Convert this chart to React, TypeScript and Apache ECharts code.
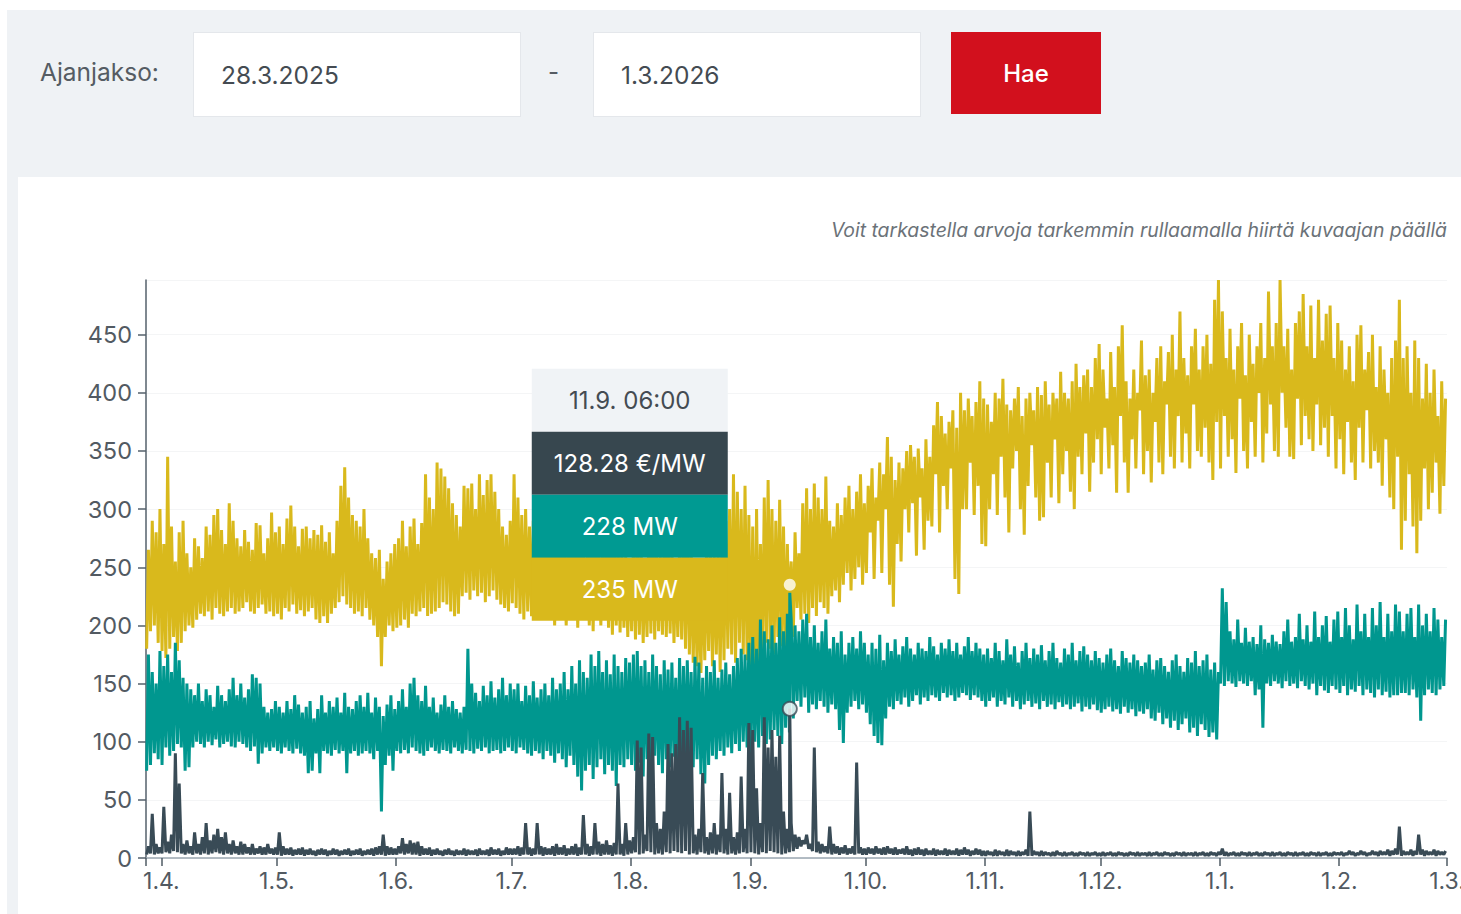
import React, { useEffect, useRef } from "react";
import * as echarts from "echarts";

// ---- data (daily low / high readings, one sub-array per month chunk) ----
const chunkStarts: [number, number, number][] = [
  [2025, 2, 28], [2025, 3, 1], [2025, 4, 1], [2025, 5, 1], [2025, 6, 1], [2025, 7, 1],
  [2025, 8, 1], [2025, 9, 1], [2025, 10, 1], [2025, 11, 1], [2026, 0, 1], [2026, 1, 1],
];

const yellowHi: number[][] = [
  [265, 290, 280, 300],
  [270, 345, 285, 255, 280, 290, 262, 250, 275, 268, 258, 285, 278, 295, 300, 282, 270, 305, 290, 275, 268, 282, 272, 265, 288, 286, 262, 275, 297, 280],
  [285, 270, 292, 303, 285, 268, 283, 285, 275, 282, 278, 286, 272, 280, 262, 290, 320, 336, 310, 295, 290, 285, 300, 275, 262, 258, 265, 240, 255, 262, 270],
  [275, 290, 268, 285, 292, 270, 288, 330, 310, 300, 340, 335, 328, 318, 305, 295, 285, 320, 318, 322, 300, 330, 312, 325, 330, 315, 300, 285, 278, 290],
  [330, 310, 295, 300, 285, 290, 300, 285, 280, 275, 290, 300, 280, 275, 270, 285, 295, 280, 265, 270, 280, 290, 275, 265, 280, 285, 270, 275, 265, 260, 255],
  [270, 280, 265, 255, 275, 285, 270, 260, 280, 275, 265, 255, 270, 280, 290, 265, 255, 240, 250, 265, 275, 260, 270, 280, 290, 300, 330, 315, 300, 320, 295],
  [285, 300, 270, 310, 325, 300, 290, 308, 285, 270, 255, 280, 262, 305, 318, 300, 322, 310, 300, 328, 290, 285, 305, 295, 310, 320, 300, 315, 330, 305],
  [320, 335, 310, 340, 330, 362, 345, 325, 340, 335, 350, 355, 345, 352, 335, 360, 345, 372, 392, 380, 365, 375, 385, 370, 400, 385, 395, 380, 392, 410, 395],
  [390, 375, 400, 395, 412, 390, 385, 395, 405, 380, 395, 400, 385, 405, 398, 410, 390, 400, 395, 418, 400, 395, 410, 425, 405, 415, 420, 405, 430, 442],
  [420, 395, 435, 405, 440, 458, 410, 395, 420, 400, 445, 415, 420, 400, 430, 440, 410, 435, 450, 420, 470, 430, 415, 440, 455, 420, 440, 450, 425, 480, 497],
  [470, 430, 455, 420, 440, 460, 415, 450, 425, 440, 460, 430, 487, 440, 460, 497, 440, 455, 420, 460, 470, 485, 440, 475, 430, 480, 445, 468, 475, 430, 460],
  [445, 420, 440, 410, 450, 458, 420, 435, 450, 405, 440, 420, 400, 430, 445, 480, 430, 440, 400, 445, 430, 395, 425, 400, 420, 380, 410, 395],
];
const yellowLo: number[][] = [
  [180, 195, 200, 185],
  [178, 172, 180, 190, 178, 185, 195, 200, 198, 205, 210, 208, 212, 205, 215, 210, 208, 212, 215, 210, 212, 215, 220, 212, 210, 215, 218, 210, 212, 208],
  [210, 205, 215, 212, 218, 210, 213, 208, 212, 215, 205, 202, 208, 202, 210, 215, 220, 225, 218, 215, 210, 212, 208, 215, 205, 200, 190, 165, 190, 200, 195],
  [198, 200, 205, 198, 210, 208, 212, 215, 208, 210, 212, 215, 220, 218, 212, 208, 210, 225, 228, 222, 230, 225, 228, 220, 225, 230, 222, 218, 215, 212],
  [219, 215, 210, 205, 212, 208, 215, 210, 205, 212, 208, 200, 210, 205, 200, 208, 205, 198, 210, 205, 200, 195, 205, 200, 210, 198, 192, 200, 194, 198, 190],
  [195, 188, 192, 185, 190, 193, 188, 195, 192, 190, 193, 185, 190, 188, 180, 175, 168, 165, 159, 170, 178, 165, 175, 160, 170, 180, 175, 168, 185, 175, 170],
  [150, 138, 160, 175, 185, 180, 175, 190, 182, 175, 173, 190, 215, 205, 210, 202, 215, 208, 220, 215, 210, 225, 230, 220, 235, 245, 230, 240, 250, 235],
  [245, 280, 240, 290, 245, 300, 235, 216, 270, 255, 300, 280, 305, 260, 310, 265, 290, 285, 330, 280, 320, 300, 335, 240, 227, 300, 300, 340, 295, 320, 270],
  [268, 300, 330, 295, 345, 310, 280, 335, 350, 300, 278, 320, 355, 310, 290, 293, 340, 310, 360, 305, 330, 350, 315, 300, 345, 330, 365, 315, 340, 360],
  [330, 370, 335, 355, 314, 380, 340, 314, 360, 335, 385, 330, 350, 323, 375, 340, 330, 390, 345, 335, 380, 340, 365, 335, 390, 350, 345, 370, 340, 325, 375],
  [335, 380, 345, 360, 331, 395, 350, 335, 375, 345, 400, 340, 365, 390, 350, 345, 400, 370, 345, 343, 395, 355, 380, 360, 350, 390, 355, 370, 345, 380, 335],
  [360, 330, 375, 340, 325, 370, 340, 385, 335, 350, 340, 320, 360, 310, 300, 345, 265, 290, 330, 285, 262, 290, 335, 300, 314, 340, 296, 320],
];

const tealHi: number[][] = [
  [175, 160, 150, 178],
  [165, 175, 160, 185, 170, 155, 150, 145, 140, 150, 135, 145, 140, 130, 148, 140, 135, 145, 155, 140, 150, 138, 145, 158, 155, 150, 130, 125, 128, 135],
  [130, 125, 135, 128, 140, 132, 125, 130, 135, 120, 128, 140, 125, 135, 130, 138, 125, 142, 130, 128, 135, 140, 130, 142, 125, 138, 130, 122, 132, 140, 128],
  [135, 145, 130, 150, 155, 140, 135, 148, 130, 138, 125, 132, 140, 130, 135, 128, 125, 130, 180, 150, 142, 135, 148, 140, 152, 138, 145, 155, 140, 150],
  [145, 150, 135, 148, 140, 152, 138, 145, 150, 140, 155, 145, 150, 160, 145, 165, 150, 170, 160, 155, 175, 165, 178, 160, 170, 158, 175, 165, 160, 172, 168],
  [175, 178, 165, 170, 160, 175, 165, 158, 170, 162, 168, 155, 172, 165, 170, 160, 173, 168, 155, 165, 160, 170, 155, 162, 168, 158, 165, 172, 180, 175, 185],
  [190, 180, 205, 195, 188, 200, 185, 207, 195, 210, 205, 200, 195, 205, 210, 190, 200, 185, 195, 205, 180, 190, 185, 195, 175, 185, 190, 180, 195, 185],
  [175, 185, 180, 192, 170, 185, 178, 188, 175, 182, 190, 180, 175, 185, 180, 178, 190, 182, 175, 185, 180, 188, 178, 185, 175, 182, 190, 178, 185, 180, 175],
  [180, 172, 185, 178, 170, 188, 175, 182, 168, 178, 185, 172, 180, 175, 183, 170, 178, 185, 172, 168, 180, 175, 185, 170, 178, 182, 175, 170, 178, 172],
  [168, 175, 180, 170, 165, 178, 172, 168, 175, 170, 165, 168, 175, 162, 170, 172, 165, 160, 170, 175, 165, 160, 172, 168, 178, 165, 170, 175, 162, 168, 160],
  [232, 220, 195, 188, 205, 185, 198, 186, 190, 184, 200, 188, 185, 192, 186, 184, 195, 205, 186, 190, 210, 188, 200, 186, 212, 190, 200, 208, 186, 205, 212],
  [190, 215, 200, 188, 218, 195, 210, 190, 215, 200, 220, 190, 210, 195, 218, 212, 195, 210, 215, 190, 218, 200, 210, 195, 215, 205, 190, 205],
];
const tealLo: number[][] = [
  [75, 80, 90, 85],
  [80, 95, 88, 92, 98, 95, 75, 78, 95, 100, 98, 95, 100, 97, 102, 95, 98, 100, 96, 95, 100, 98, 95, 92, 96, 81, 90, 95, 92, 95],
  [92, 90, 95, 92, 90, 94, 90, 88, 73, 75, 90, 73, 92, 90, 88, 93, 90, 92, 73, 90, 92, 88, 90, 92, 90, 85, 92, 40, 80, 88, 75],
  [92, 90, 93, 90, 95, 92, 90, 88, 92, 95, 92, 90, 93, 92, 90, 95, 92, 90, 93, 92, 90, 94, 92, 95, 90, 92, 93, 90, 92, 95],
  [92, 90, 95, 93, 90, 88, 92, 90, 85, 92, 88, 82, 90, 85, 78, 88, 80, 70, 58, 75, 80, 68, 78, 85, 72, 80, 75, 62, 80, 78, 85],
  [80, 75, 82, 70, 85, 78, 88, 80, 73, 85, 78, 87, 80, 75, 85, 90, 78, 85, 72, 64, 80, 88, 85, 92, 88, 95, 90, 98, 92, 100, 95],
  [90, 100, 95, 105, 98, 102, 110, 105, 98, 112, 108, 120, 135, 130, 138, 125, 132, 128, 135, 130, 125, 132, 128, 110, 99, 125, 130, 135, 128, 132],
  [125, 115, 105, 99, 97, 120, 130, 128, 135, 132, 138, 130, 135, 140, 132, 138, 135, 140, 138, 135, 142, 138, 140, 135, 138, 142, 140, 136, 140, 138, 135],
  [130, 135, 138, 130, 135, 132, 138, 130, 135, 128, 132, 135, 130, 133, 128, 135, 130, 132, 128, 134, 130, 132, 128, 130, 133, 126, 130, 128, 132, 127],
  [125, 128, 130, 126, 128, 124, 130, 125, 128, 122, 126, 124, 128, 120, 118, 125, 115, 120, 112, 118, 110, 115, 120, 108, 112, 105, 115, 110, 104, 108, 102],
  [150, 148, 152, 150, 147, 152, 150, 148, 152, 140, 145, 112, 150, 148, 152, 150, 146, 152, 148, 150, 146, 152, 148, 145, 150, 140, 148, 144, 142, 148, 145],
  [142, 148, 140, 145, 143, 148, 140, 145, 142, 138, 145, 140, 143, 138, 140, 140, 142, 142, 140, 145, 138, 118, 140, 145, 142, 140, 145, 148],
];

const priceHi: number[][] = [
  [10, 38, 12, 9],
  [44, 14, 20, 90, 64, 12, 15, 10, 22, 12, 18, 30, 15, 20, 25, 18, 22, 12, 15, 10, 14, 12, 9, 12, 8, 10, 9, 12, 8, 9],
  [22, 10, 8, 9, 7, 8, 9, 7, 8, 6, 7, 8, 7, 6, 8, 7, 6, 7, 8, 6, 7, 8, 6, 7, 8, 9, 10, 20, 10, 9, 8],
  [10, 17, 12, 15, 13, 14, 10, 8, 9, 7, 8, 6, 7, 8, 6, 7, 6, 8, 7, 6, 7, 8, 6, 7, 9, 7, 8, 6, 9, 8],
  [8, 10, 9, 30, 9, 8, 30, 10, 9, 8, 10, 12, 9, 11, 8, 10, 12, 9, 37, 12, 10, 30, 14, 12, 15, 11, 13, 64, 12, 30, 15],
  [18, 101, 95, 20, 107, 104, 30, 25, 40, 98, 90, 98, 121, 110, 118, 112, 20, 25, 73, 18, 22, 30, 20, 73, 25, 56, 18, 22, 70, 25, 116],
  [110, 60, 30, 121, 95, 110, 87, 105, 40, 25, 30, 20, 18, 15, 20, 12, 95, 14, 12, 10, 27, 12, 10, 9, 11, 8, 10, 82, 9, 8],
  [9, 8, 10, 8, 9, 10, 8, 9, 7, 8, 10, 7, 8, 9, 7, 8, 6, 8, 7, 6, 8, 7, 6, 8, 7, 9, 7, 6, 8, 7, 6],
  [6, 5, 7, 6, 5, 7, 6, 5, 6, 5, 7, 40, 6, 5, 6, 5, 4, 5, 6, 4, 5, 4, 5, 4, 5, 4, 5, 4, 5, 4],
  [5, 4, 5, 4, 5, 4, 4, 5, 4, 5, 4, 4, 5, 4, 5, 4, 5, 4, 4, 5, 4, 5, 4, 4, 5, 4, 5, 4, 5, 4, 5],
  [8, 5, 4, 5, 4, 5, 4, 5, 4, 5, 4, 5, 4, 5, 4, 5, 4, 5, 4, 5, 4, 5, 4, 5, 4, 5, 4, 5, 4, 5, 4],
  [5, 4, 6, 5, 4, 6, 5, 4, 6, 5, 6, 5, 7, 6, 8, 27, 6, 5, 7, 6, 20, 7, 6, 5, 7, 6, 5, 6],
];
const priceLo: number[][] = [
  [3, 4, 3, 4],
  [4, 5, 4, 6, 5, 4, 3, 4, 3, 4, 3, 4, 3, 4, 5, 4, 3, 4, 3, 4, 3, 3, 4, 3, 3, 4, 3, 3, 4, 3],
  [3, 2, 3, 3, 2, 3, 3, 2, 3, 3, 2, 3, 3, 2, 3, 3, 2, 3, 3, 2, 3, 3, 2, 3, 3, 2, 3, 3, 2, 3, 3],
  [3, 4, 3, 4, 3, 3, 2, 3, 3, 2, 3, 3, 2, 3, 3, 2, 3, 3, 2, 3, 3, 2, 3, 3, 2, 3, 3, 2, 3, 3],
  [3, 3, 2, 3, 3, 2, 3, 3, 2, 3, 3, 2, 3, 3, 2, 3, 3, 2, 3, 3, 2, 3, 3, 2, 3, 3, 2, 3, 3, 2, 3],
  [4, 5, 3, 4, 6, 5, 3, 4, 3, 5, 4, 6, 5, 4, 6, 3, 4, 3, 5, 4, 3, 4, 3, 5, 4, 3, 4, 3, 4, 5, 4],
  [5, 4, 3, 5, 4, 6, 5, 4, 3, 4, 5, 6, 8, 10, 12, 8, 6, 5, 4, 5, 4, 3, 4, 3, 4, 3, 4, 3, 4, 3],
  [3, 4, 3, 4, 3, 3, 4, 3, 3, 4, 3, 3, 2, 3, 3, 2, 3, 3, 2, 3, 3, 2, 3, 3, 2, 3, 3, 2, 3, 3, 2],
  [2, 3, 2, 2, 3, 2, 2, 3, 2, 2, 3, 2, 2, 3, 2, 2, 3, 2, 2, 3, 2, 2, 3, 2, 2, 3, 2, 2, 3, 2],
  [2, 2, 3, 2, 2, 3, 2, 2, 3, 2, 2, 3, 2, 2, 3, 2, 2, 3, 2, 2, 3, 2, 2, 3, 2, 2, 3, 2, 2, 3, 2],
  [3, 2, 2, 3, 2, 2, 3, 2, 2, 3, 2, 2, 3, 2, 2, 3, 2, 2, 3, 2, 2, 3, 2, 2, 3, 2, 2, 3, 2, 2, 3],
  [3, 2, 3, 3, 2, 3, 3, 2, 3, 3, 2, 3, 3, 2, 3, 3, 2, 3, 3, 2, 3, 3, 2, 3, 3, 2, 3, 3],
];

// hovered record shown in the tooltip (11.9. 06:00)
const hoverDate: [number, number, number, number] = [2025, 8, 11, 6];
const hoverPrice = 128.28;
const hoverTeal = 228;
const hoverYellow = 235;

// axis range and month tick labels
const rangeStart: [number, number, number] = [2025, 2, 28];
const rangeEnd: [number, number, number] = [2026, 2, 1];
const monthTicks: [number, number][] = [
  [2025, 3], [2025, 4], [2025, 5], [2025, 6], [2025, 7], [2025, 8],
  [2025, 9], [2025, 10], [2025, 11], [2026, 0], [2026, 1], [2026, 2],
];

const YELLOW = "#d9b91c";
const TEAL = "#00978f";
const DARK = "#394b56";
const FONT = "Inter, Roboto, 'Noto Sans', sans-serif";

function buildSeries(hi: number[][], lo: number[][], hoverT: number, hoverV: number) {
  const out: [number, number][] = [];
  chunkStarts.forEach(([y, m, d], ci) => {
    hi[ci].forEach((h, i) => {
      out.push([new Date(y, m, d + i, 4).getTime(), lo[ci][i]]);
      out.push([new Date(y, m, d + i, 15).getTime(), h]);
    });
  });
  out.push([hoverT, hoverV]);
  out.sort((a, b) => a[0] - b[0]);
  return out;
}

export default function App() {
  const ref = useRef<HTMLDivElement>(null);

  useEffect(() => {
    if (!ref.current) return;
    const chart = echarts.init(ref.current, undefined, { renderer: "svg" });
    const hoverT = new Date(...hoverDate).getTime();
    const startT = new Date(...rangeStart).getTime();
    const endT = new Date(...rangeEnd).getTime();
    const tickVals = monthTicks.map(([y, m]) => new Date(y, m, 1).getTime());

    const lineSeries = (name: string, color: string, data: [number, number][]) => ({
      name,
      type: "line",
      data,
      showSymbol: false,
      silent: true,
      lineStyle: { color, width: 3 },
      itemStyle: { color },
      z: 2,
    });
    const markerSeries = (color: string, value: number, size: number, border: number) => ({
      type: "scatter",
      data: [[hoverT, value]],
      symbol: "circle",
      symbolSize: size,
      silent: true,
      itemStyle: { color: "#ffffff", borderColor: color, borderWidth: border },
      z: 5,
    });

    chart.setOption({
      animation: false,
      textStyle: { fontFamily: FONT },
      grid: { left: 128, right: 71, top: 103, bottom: 56, containLabel: false, outerBoundsMode: "none" },
      xAxis: {
        type: "value",
        min: startT,
        max: endT,
        axisLine: { show: true, lineStyle: { color: "#9aa6b0", width: 1.5 } },
        axisTick: { show: true, length: 8, customValues: [startT, ...tickVals], lineStyle: { color: "#4f5b64", width: 1.5 } },
        axisLabel: {
          customValues: tickVals,
          color: "#525a62",
          fontSize: 23,
          fontFamily: FONT,
          margin: 11,
          formatter: (v: number) => {
            const d = new Date(v);
            return `${d.getDate()}.${d.getMonth() + 1}.`;
          },
        },
        splitLine: { show: false },
      },
      yAxis: {
        type: "value",
        min: 0,
        max: 497,
        interval: 50,
        axisLine: { show: true, lineStyle: { color: "#55616b", width: 1.5 } },
        axisTick: { show: true, length: 8, lineStyle: { color: "#55616b", width: 1.5 } },
        axisLabel: { showMaxLabel: false, color: "#525a62", fontSize: 23.5, fontFamily: FONT, margin: 14 },
        splitLine: { show: true, lineStyle: { color: "#f4f5f6", width: 1 } },
      },
      series: [
        lineSeries("Yellow", YELLOW, buildSeries(yellowHi, yellowLo, hoverT, hoverYellow)),
        lineSeries("Teal", TEAL, buildSeries(tealHi, tealLo, hoverT, hoverTeal)),
        lineSeries("Price", DARK, buildSeries(priceHi, priceLo, hoverT, hoverPrice)),
        markerSeries(YELLOW, hoverYellow, 12, 0),
        markerSeries(DARK, hoverPrice, 14, 2),
      ],
    });

    const p = chart.convertToPixel({ gridIndex: 0 }, [hoverT, hoverYellow]) as number[];
    const tipLeft = p[0] - 258;
    const tipTop = p[1] - 216;
    const tipW = 196;
    const rowH = 63;
    const hd = new Date(hoverT);
    const hh = String(hd.getHours()).padStart(2, "0");
    const mm = String(hd.getMinutes()).padStart(2, "0");
    const rows = [
      { bg: "#f0f3f6", fg: "#444b52", text: `${hd.getDate()}.${hd.getMonth() + 1}. ${hh}:${mm}` },
      { bg: "#37474f", fg: "#ffffff", text: `${hoverPrice.toFixed(2)} €/MW` },
      { bg: "#009a92", fg: "#ffffff", text: `${hoverTeal} MW` },
      { bg: "#d9b91c", fg: "#ffffff", text: `${hoverYellow} MW` },
    ];
    chart.setOption({
      graphic: rows.map((r, i) => ({
        type: "group",
        x: tipLeft,
        y: tipTop + i * rowH,
        z: 100,
        children: [
          { type: "rect", z: 100, shape: { x: 0, y: 0, width: tipW, height: rowH }, style: { fill: r.bg } },
          {
            type: "text",
            z: 101,
            x: tipW / 2,
            y: rowH / 2,
            style: {
              text: r.text,
              fill: r.fg,
              fontSize: 24,
              fontFamily: FONT,
              align: "center",
              verticalAlign: "middle",
              textAlign: "center",
              textVerticalAlign: "middle",
            },
          },
        ],
      })),
    });

    return () => chart.dispose();
  }, []);

  const inputStyle: React.CSSProperties = {
    position: "absolute",
    top: 32,
    width: 328,
    height: 85,
    background: "#ffffff",
    border: "1px solid #e4e7eb",
    boxSizing: "border-box",
    display: "flex",
    alignItems: "center",
    paddingLeft: 27,
    fontSize: 24.5,
    color: "#444b52",
  };

  return (
    <div style={{ position: "fixed", left: 0, top: 0, width: 1461, height: 914, overflow: "hidden", background: "#ffffff", fontFamily: FONT }}>
      <div style={{ position: "absolute", left: 7, top: 10, right: 0, bottom: 0, background: "#eff2f5" }} />
      <div style={{ position: "absolute", left: 40, top: 57, fontSize: 24.5, color: "#555c63", lineHeight: "30px" }}>Ajanjakso:</div>
      <div style={{ ...inputStyle, left: 193 }}>28.3.2025</div>
      <div style={{ position: "absolute", left: 548, top: 57, fontSize: 24, color: "#555c63", lineHeight: "30px" }}>-</div>
      <div style={{ ...inputStyle, left: 593 }}>1.3.2026</div>
      <div
        style={{
          position: "absolute",
          left: 951,
          top: 32,
          width: 150,
          height: 82,
          background: "#d2101d",
          color: "#ffffff",
          fontSize: 24,
          fontWeight: 500,
          display: "flex",
          alignItems: "center",
          justifyContent: "center",
        }}
      >
        Hae
      </div>
      <div style={{ position: "absolute", left: 18, top: 177, right: 0, bottom: 0, background: "#ffffff" }} />
      <div
        style={{
          position: "absolute",
          right: 14,
          top: 217,
          fontSize: 19.4,
          fontStyle: "italic",
          color: "#6b7278",
          whiteSpace: "nowrap",
          lineHeight: "26px",
        }}
      >
        Voit tarkastella arvoja tarkemmin rullaamalla hiirtä kuvaajan päällä
      </div>
      <div ref={ref} style={{ position: "absolute", left: 18, top: 177, width: 1500, height: 737 }} />
    </div>
  );
}
